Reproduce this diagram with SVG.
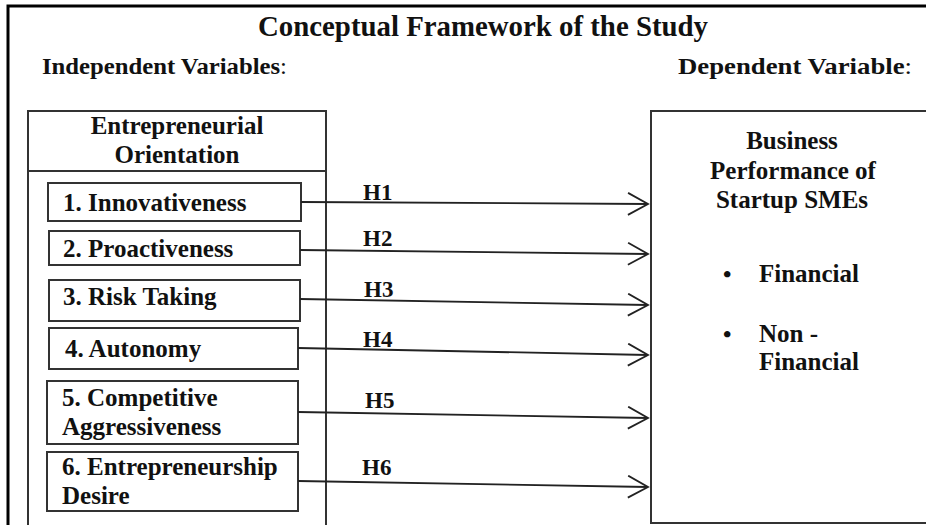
<svg xmlns="http://www.w3.org/2000/svg" width="926" height="525" viewBox="0 0 926 525">
<defs>
<style>
text{font-family:"Liberation Serif","Times New Roman",serif;font-weight:bold;fill:#111;}
.box{fill:#fff;stroke:#333;stroke-width:2;}
.frame{fill:none;stroke:#000;stroke-width:3;}
.conn{stroke:#222;stroke-width:1.8;fill:none;marker-end:url(#arr);}
.t24{font-size:24px;}
.t25{font-size:25px;}
.t22{font-size:23px;}
.mid{text-anchor:middle;}
</style>
<marker id="arr" markerUnits="userSpaceOnUse" markerWidth="24" markerHeight="26" refX="21" refY="12" orient="auto" viewBox="0 0 24 26">
<path d="M1,1 L21,12 L1,23" fill="none" stroke="#222" stroke-width="1.8"/>
</marker>
</defs>
<rect width="926" height="525" fill="#fff"/>
<rect class="frame" x="8" y="6" width="940" height="540"/>
<text x="483" y="36" font-size="29" class="mid" textLength="450" lengthAdjust="spacingAndGlyphs">Conceptual Framework of the Study</text>
<text x="42" y="74" class="t24" textLength="245" lengthAdjust="spacingAndGlyphs">Independent Variables<tspan font-weight="normal">:</tspan></text>
<text x="678" y="74" class="t24" textLength="234" lengthAdjust="spacingAndGlyphs">Dependent Variable<tspan font-weight="normal">:</tspan></text>

<g id="eo">
<rect class="box" x="28" y="111" width="298" height="420"/>
<line x1="28" y1="171" x2="326" y2="171" stroke="#333" stroke-width="2"/>
<text x="177" y="134" class="t25 mid">Entrepreneurial</text>
<text x="177" y="163" class="t25 mid">Orientation</text>
</g>
<g id="n1"><rect class="box" x="48" y="183" width="253" height="38"/><text x="63" y="211" class="t25">1. Innovativeness</text></g>
<g id="n2"><rect class="box" x="49" y="231" width="251" height="34"/><text x="63" y="257" class="t25">2. Proactiveness</text></g>
<g id="n3"><rect class="box" x="49" y="280" width="251" height="41"/><text x="63" y="305" class="t25">3. Risk Taking</text></g>
<g id="n4"><rect class="box" x="49" y="328" width="249" height="41"/><text x="65" y="357" class="t25">4. Autonomy</text></g>
<g id="n5"><rect class="box" x="47" y="381" width="251" height="63"/><text x="62" y="406" class="t25">5. Competitive</text><text x="62" y="435" class="t25">Aggressiveness</text></g>
<g id="n6"><rect class="box" x="47" y="452" width="251" height="59"/><text x="62" y="475" class="t25">6. Entrepreneurship</text><text x="62" y="504" class="t25">Desire</text></g>

<g id="bp">
<rect class="box" x="651" y="111" width="300" height="412"/>
<text x="792" y="149" class="t25 mid">Business</text>
<text x="793" y="179" class="t25 mid">Performance of</text>
<text x="792" y="208" class="t25 mid">Startup SMEs</text>
<text x="723" y="282" class="t24">•</text>
<text x="759" y="282" class="t25">Financial</text>
<text x="723" y="342" class="t24">•</text>
<text x="759" y="342" class="t25">Non -</text>
<text x="759" y="370" class="t25">Financial</text>
</g>

<g id="connectors">
<line class="conn" x1="301" y1="202" x2="648" y2="204"/>
<line class="conn" x1="300" y1="250" x2="648" y2="254"/>
<line class="conn" x1="300" y1="299" x2="648" y2="305"/>
<line class="conn" x1="298" y1="348" x2="648" y2="355"/>
<line class="conn" x1="298" y1="412" x2="648" y2="418"/>
<line class="conn" x1="298" y1="481" x2="648" y2="487"/>
<text x="363" y="200" class="t22">H1</text>
<text x="363" y="246" class="t22">H2</text>
<text x="364" y="297" class="t22">H3</text>
<text x="363" y="347" class="t22">H4</text>
<text x="365" y="408" class="t22">H5</text>
<text x="362" y="475" class="t22">H6</text>
</g>
</svg>
